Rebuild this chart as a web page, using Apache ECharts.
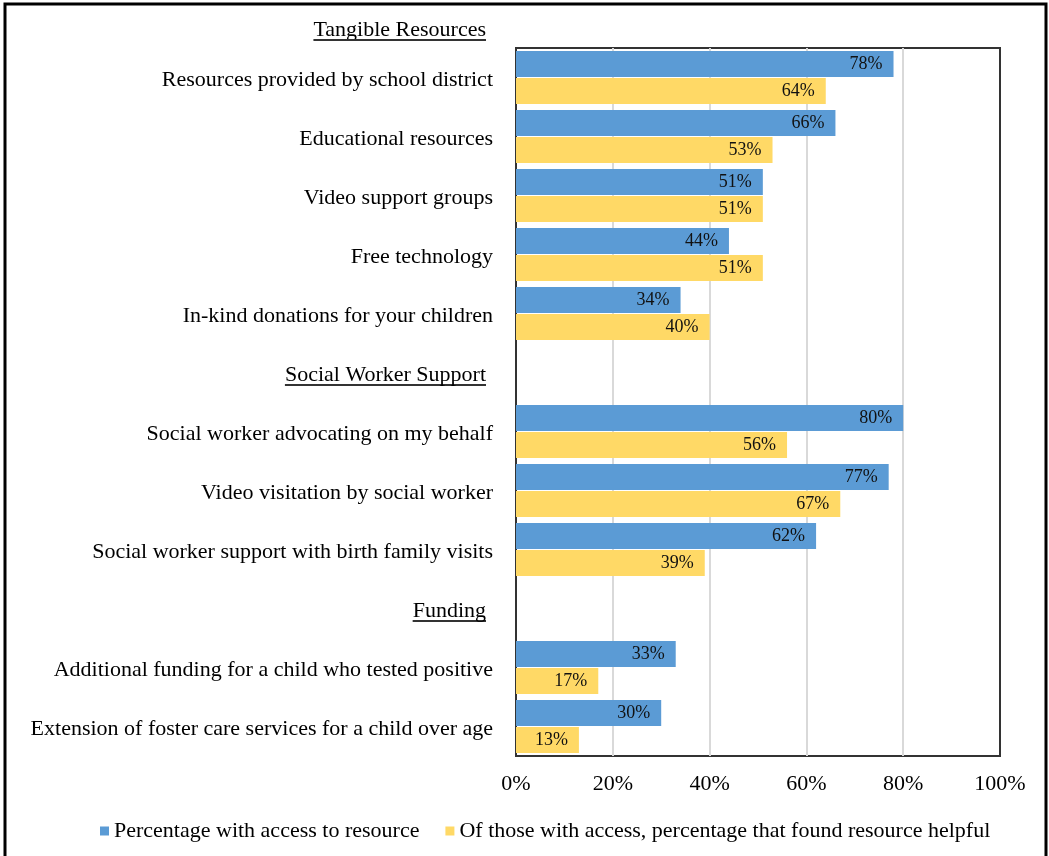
<!DOCTYPE html>
<html>
<head>
<meta charset="utf-8">
<script src="https://cdn.jsdelivr.net/npm/echarts@6/dist/echarts.min.js"></script>
<style>
  html, body { margin: 0; padding: 0; background: #fff; }
  #chart { width: 1049px; height: 856px; }
</style>
</head>
<body>
<div id="chart"></div>
<script>
// section title shown above the plot
const topHeader = "Tangible Resources";

// category rows (headers have no bars)
const categories = [
  "Resources provided by school district",
  "Educational resources",
  "Video support groups",
  "Free technology",
  "In-kind donations for your children",
  "Social Worker Support",
  "Social worker advocating on my behalf",
  "Video visitation by social worker",
  "Social worker support with birth family visits",
  "Funding",
  "Additional funding for a child who tested positive",
  "Extension of foster care services for a child over age"
];
const headers = ["Social Worker Support", "Funding"];

const accessPct = [78, 66, 51, 44, 34, null, 80, 77, 62, null, 33, 30];
const helpfulPct = [64, 53, 51, 51, 40, null, 56, 67, 39, null, 17, 13];

const seriesNames = [
  "Percentage with access to resource",
  "Of those with access, percentage that found resource helpful"
];
const xTicks = [0, 20, 40, 60, 80, 100];

const FONT = "'Liberation Serif', 'Times New Roman', serif";
const chart = echarts.init(document.getElementById("chart"));

const barLabel = {
  show: true,
  position: "insideRight",
  distance: 11,
  color: "#111",
  fontFamily: FONT,
  fontSize: 18,
  formatter: (p) => p.value + "%"
};

chart.setOption({
  animation: false,
  backgroundColor: "#fff",
  textStyle: { fontFamily: FONT },
  grid: {
    left: 516,
    right: 49,
    top: 48,
    bottom: 100,
    show: true,
    borderColor: "#333",
    borderWidth: 2,
    backgroundColor: "transparent"
  },
  legend: {
    data: seriesNames,
    left: 95,
    top: 815,
    icon: "rect",
    itemWidth: 9,
    itemHeight: 9,
    itemGap: 26,
    textStyle: { fontFamily: FONT, fontSize: 22, color: "#000" }
  },
  xAxis: {
    type: "value",
    min: xTicks[0],
    max: xTicks[xTicks.length - 1],
    interval: 20,
    axisLine: { show: false },
    axisTick: { show: false },
    axisLabel: {
      margin: 17,
      color: "#000",
      fontFamily: FONT,
      fontSize: 22,
      formatter: "{value}%"
    },
    splitLine: {
      showMinLine: false,
      showMaxLine: false,
      lineStyle: { color: "#d9d9d9", width: 2 }
    }
  },
  yAxis: {
    type: "category",
    inverse: true,
    data: categories,
    axisLine: { show: true, lineStyle: { color: "#333", width: 2 } },
    axisTick: { show: false },
    axisLabel: {
      margin: 23,
      color: "#000",
      fontFamily: FONT,
      fontSize: 22,
      padding: [5, 0, 0, 0],
      formatter: (v) => headers.includes(v) ? "{h|" + v + "}" : v,
      rich: {
        h: { fontFamily: FONT, fontSize: 22, color: "#000", padding: [0, 7, 0, 0] }
      }
    }
  },
  series: [
    {
      name: seriesNames[0],
      type: "bar",
      data: accessPct,
      barCategoryGap: "10%",
      barGap: "3%",
      itemStyle: { color: "#5b9bd5" },
      label: barLabel
    },
    {
      name: seriesNames[1],
      type: "bar",
      data: helpfulPct,
      barCategoryGap: "10%",
      barGap: "3%",
      itemStyle: { color: "#ffd966" },
      label: barLabel
    }
  ]
});

// underlined section headers, positioned from the axis scale
const ctx = document.createElement("canvas").getContext("2d");
ctx.font = "22px 'Liberation Serif'";
const labelRight = 516 - 23 - 7;
const gfx = [
  {
    type: "rect",
    shape: { x: 5, y: 4, width: 1041, height: 900 },
    style: { fill: "none", stroke: "#000", lineWidth: 3 },
    silent: true
  }
];
const firstY = chart.convertToPixel({ yAxisIndex: 0 }, categories[0]);
const step = chart.convertToPixel({ yAxisIndex: 0 }, categories[1]) - firstY;
const underline = (text, cy) => {
  const w = ctx.measureText(text).width;
  gfx.push({
    type: "line",
    shape: { x1: labelRight - w, y1: cy + 10.5, x2: labelRight, y2: cy + 10.5 },
    style: { stroke: "#333", lineWidth: 1.8 },
    silent: true
  });
};
const topY = firstY - step + 12;
gfx.push({
  type: "text",
  x: labelRight,
  y: topY,
  style: {
    text: topHeader,
    fontFamily: FONT,
    fontSize: 22,
    fill: "#000",
    textAlign: "right",
    textVerticalAlign: "middle"
  }
});
underline(topHeader, topY - 1);
headers.forEach((h) => underline(h, chart.convertToPixel({ yAxisIndex: 0 }, h) + 2));
chart.setOption({ graphic: gfx });
</script>
</body>
</html>
